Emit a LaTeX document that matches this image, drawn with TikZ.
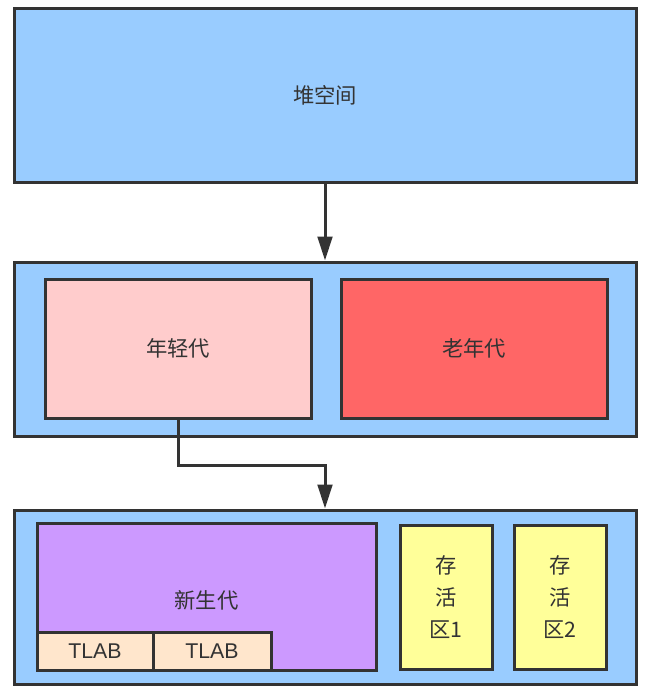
\documentclass[tikz,border=0pt]{standalone}
\usepackage{fontspec}
\setmainfont{Noto Sans CJK SC}
\newfontfamily\latinfont{Liberation Sans}
\usetikzlibrary{arrows.meta}
\definecolor{stroke}{HTML}{333333}
\definecolor{heapblue}{HTML}{99CCFF}
\definecolor{youngpink}{HTML}{FFCCCC}
\definecolor{oldred}{HTML}{FF6666}
\definecolor{edenpurple}{HTML}{CC99FF}
\definecolor{survyellow}{HTML}{FFFF99}
\definecolor{tlabcol}{HTML}{FFE6CC}
\begin{document}
\begin{tikzpicture}[x=0.75pt,y=-0.75pt,
  box/.style={draw=stroke,line width=2.25pt,inner sep=0pt,text=stroke,font=\fontsize{16}{24}\selectfont,align=center},
  conn/.style={draw=stroke,line width=2.25pt,-{Triangle[length=18pt,width=11pt]}}]
\useasboundingbox (0,0) rectangle (652,696);
\node[box,fill=heapblue,minimum width=622*0.75pt,minimum height=174*0.75pt] (heap) at (325,95) {堆空间};
\node[box,fill=heapblue,minimum width=622*0.75pt,minimum height=174*0.75pt] (gen) at (325,349) {};
\node[box,fill=youngpink,minimum width=266*0.75pt,minimum height=139*0.75pt] (young) at (178,348.5) {年轻代};
\node[box,fill=oldred,minimum width=266*0.75pt,minimum height=139*0.75pt] (old) at (474,348.5) {老年代};
\node[box,fill=heapblue,minimum width=622*0.75pt,minimum height=174*0.75pt] (ygen) at (325,597) {};
\node[box,fill=edenpurple,minimum width=339*0.75pt,minimum height=147*0.75pt] (eden) at (206.5,596.5) {};
\node[text=stroke,font=\fontsize{16}{24}\selectfont] (edenlbl) at (206.5,600) {新生代};
\node[box,fill=tlabcol,minimum width=116*0.75pt,minimum height=38*0.75pt,font=\latinfont\fontsize{16}{18}\selectfont] (tlab1) at (95,651) {TLAB};
\node[box,fill=tlabcol,minimum width=118*0.75pt,minimum height=38*0.75pt,font=\latinfont\fontsize{16}{18}\selectfont] (tlab2) at (212,651) {TLAB};
\node[box,fill=survyellow,minimum width=92*0.75pt,minimum height=144*0.75pt] (s1) at (446,597) {存\\活\\区1};
\node[box,fill=survyellow,minimum width=92*0.75pt,minimum height=144*0.75pt] (s2) at (560,597) {存\\活\\区2};
\coordinate (bend) at (178,465);
\draw[conn] (heap.south) -- (gen.north);
\draw[conn] (young.south) -- (bend) -| (ygen.north);
\end{tikzpicture}
\end{document}
